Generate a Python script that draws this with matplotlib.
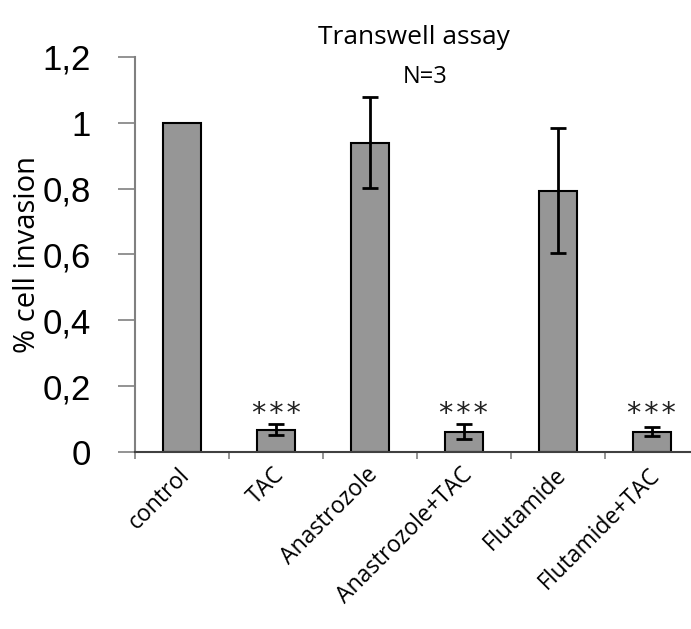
import matplotlib.pyplot as plt
import matplotlib.transforms as mtransforms
import numpy as np

# ===== DATA =====
groups = ["control", "TAC", "Anastrozole", "Anastrozole+TAC", "Flutamide", "Flutamide+TAC"]
invasion = [1.0, 0.068, 0.94, 0.062, 0.794, 0.062]
err = [0.0, 0.017, 0.137, 0.024, 0.19, 0.014]
stars = ["", "*\u200a*\u200a*", "", "*\u200a*\u200a*", "", "*\u200a*\u200a*"]
yticks = [0, 0.2, 0.4, 0.6, 0.8, 1, 1.2]
ytick_labels = ["0", "0,2", "0,4", "0,6", "0,8", "1", "1,2"]

# ===== FIGURE =====
fig = plt.figure(figsize=(6.91, 6.29), dpi=100)
ax = fig.add_axes([0.1954, 0.2814, 0.816, 0.628])

x = np.arange(len(groups))
ax.bar(x, invasion, width=0.41, color="#969696", edgecolor="black", linewidth=1.5, zorder=2)
ax.errorbar(x[1:], invasion[1:], yerr=err[1:], fmt="none", ecolor="black",
            elinewidth=2, capsize=6, capthick=2, zorder=3)

# significance stars
for xi, s in zip(x, stars):
    if s:
        ax.text(xi, 0.074, s, ha="center", va="bottom", fontsize=20.5,
                family="DejaVu Sans", color="#222222")

ax.set_xlim(-0.5, 5.5)
ax.set_ylim(0, 1.2)

# y axis
ax.set_yticks(yticks)
ax.set_yticklabels(ytick_labels, family="Liberation Sans", fontsize=25)
ax.tick_params(axis="y", direction="out", length=12, width=1.2, color="#808080", pad=20)

# x axis: ticks on category boundaries, labels at centres
ax.set_xticks(x)
ax.set_xticklabels(groups, rotation=45, ha="right", rotation_mode="anchor",
                   family="Open Sans", fontsize=16.5)
ax.tick_params(axis="x", which="major", length=0, pad=8)
shift = mtransforms.ScaledTranslation(-4 / 100, 0, fig.dpi_scale_trans)
for lbl in ax.get_xticklabels():
    lbl.set_transform(lbl.get_transform() + shift)
ax.set_xticks(np.arange(-0.5, 6, 1), minor=True)
ax.tick_params(axis="x", which="minor", direction="out", length=5, width=1.2, color="#808080")

for side in ["top", "right"]:
    ax.spines[side].set_visible(False)
ax.spines["left"].set_color("#808080")
ax.spines["left"].set_linewidth(1.5)
ax.spines["bottom"].set_color("#404040")
ax.spines["bottom"].set_linewidth(1.5)

ax.set_ylabel("% cell invasion", family="Open Sans", fontsize=21)
ax.yaxis.set_label_coords(-0.165, 0.5)

fig.text(0.599, 0.94, "Transwell assay", ha="center", va="center", family="Open Sans", fontsize=19)
fig.text(0.615, 0.877, "N=3", ha="center", va="center", family="Open Sans", fontsize=17)

fig.savefig("out.png", dpi=100)
